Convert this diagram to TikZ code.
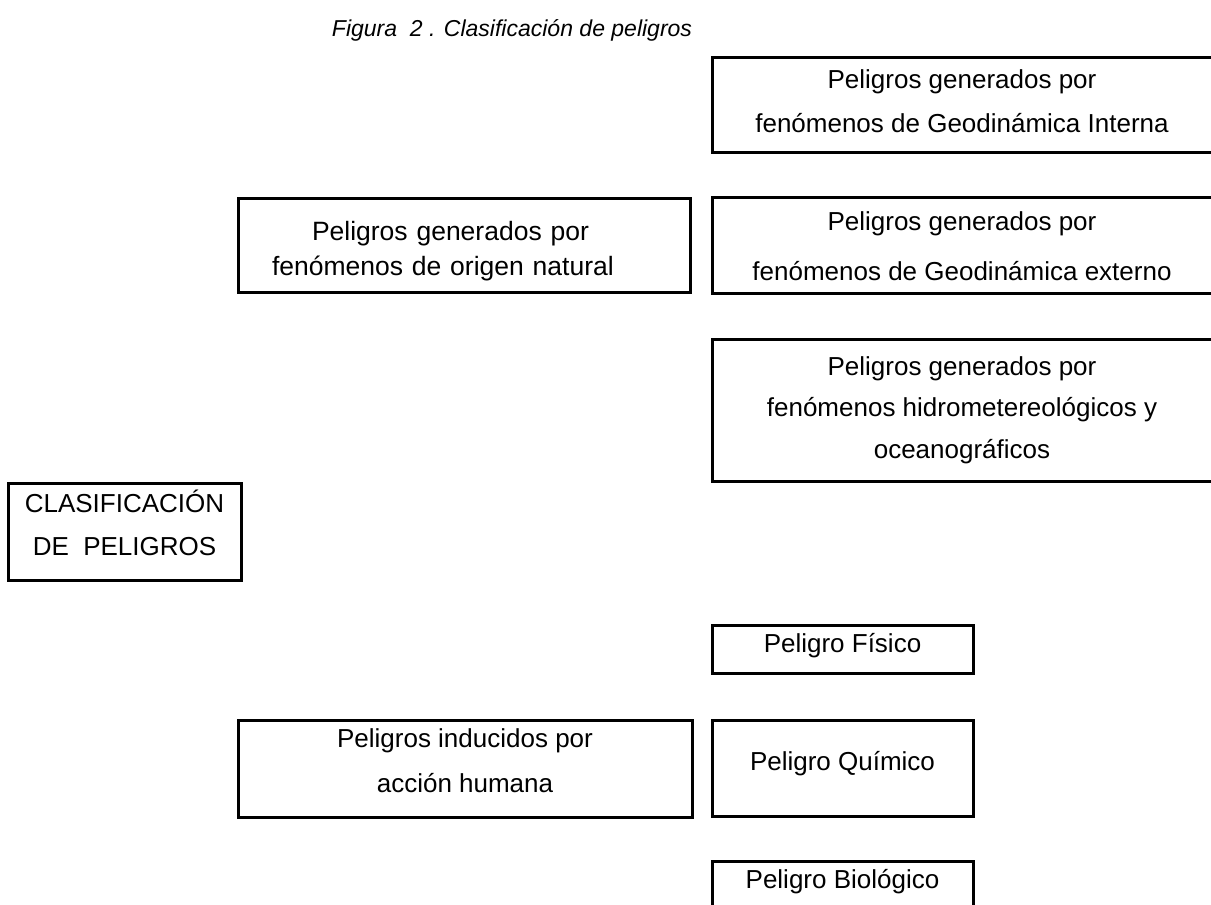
\documentclass[tikz,border=0pt]{standalone}
\usepackage{fontspec}
\setmainfont{Liberation Sans}

\tikzset{
  caja/.style={draw, line width=3pt, align=center, inner sep=0pt, text depth=0pt, font=\fontsize{26}{44}\selectfont},
  linea/.style={text height=19pt},
}

\begin{document}
\begin{tikzpicture}[x=1pt,y=1pt,yscale=-1]

\useasboundingbox (0,0) rectangle (1211,905);
\clip (0,0) rectangle (1211,905);

% Title
\node [font=\fontsize{23}{28}\selectfont\itshape] (titulo) at (512,30) {Figura\ \ 2 . Clasificación de peligros};

% Root
\node [caja, minimum width=233, minimum height=97, text height=47pt, font=\fontsize{26}{43}\selectfont] (clasif) at (124.5,531.5) {CLASIFICACIÓN\\DE\ \ PELIGROS};

% Natural hazards
\node [caja, minimum width=452, minimum height=94, text width=384pt, align=left, text height=19pt, text depth=29pt, font=\fontsize{26.5}{35}\selectfont] (natural) at (464,245) {\hspace*{40pt}\makebox[298pt][s]{Peligros generados por}\\fenómenos de origen natural};
\node [caja, minimum width=500, minimum height=95, text height=55pt] (interna) at (962,104.5) {Peligros generados por\\fenómenos de Geodinámica Interna};
\node [caja, minimum width=500, minimum height=96, text height=70pt, font=\fontsize{26}{50}\selectfont] (externo) at (962,245) {Peligros generados por\\fenómenos de Geodinámica externo};
\node [caja, minimum width=500, minimum height=142, text height=96pt, font=\fontsize{26}{41.5}\selectfont] (hidro) at (962,410) {Peligros generados por\\fenómenos hidrometereológicos y\\oceanográficos};

% Human induced hazards
\node [caja, minimum width=454, minimum height=97, text height=47pt, font=\fontsize{26}{45}\selectfont] (humana) at (465,768.5) {Peligros inducidos por\\acción humana};
\node [caja, linea, minimum width=261, minimum height=48, text depth=13pt] (fisico) at (842.5,649) {Peligro Físico};
\node [caja, linea, minimum width=261, minimum height=96, text depth=15pt] (quimico) at (842.5,768) {Peligro Químico};
\node [caja, linea, minimum width=261, minimum height=56, text depth=21pt] (biologico) at (842.5,889) {Peligro Biológico};

\end{tikzpicture}
\end{document}
